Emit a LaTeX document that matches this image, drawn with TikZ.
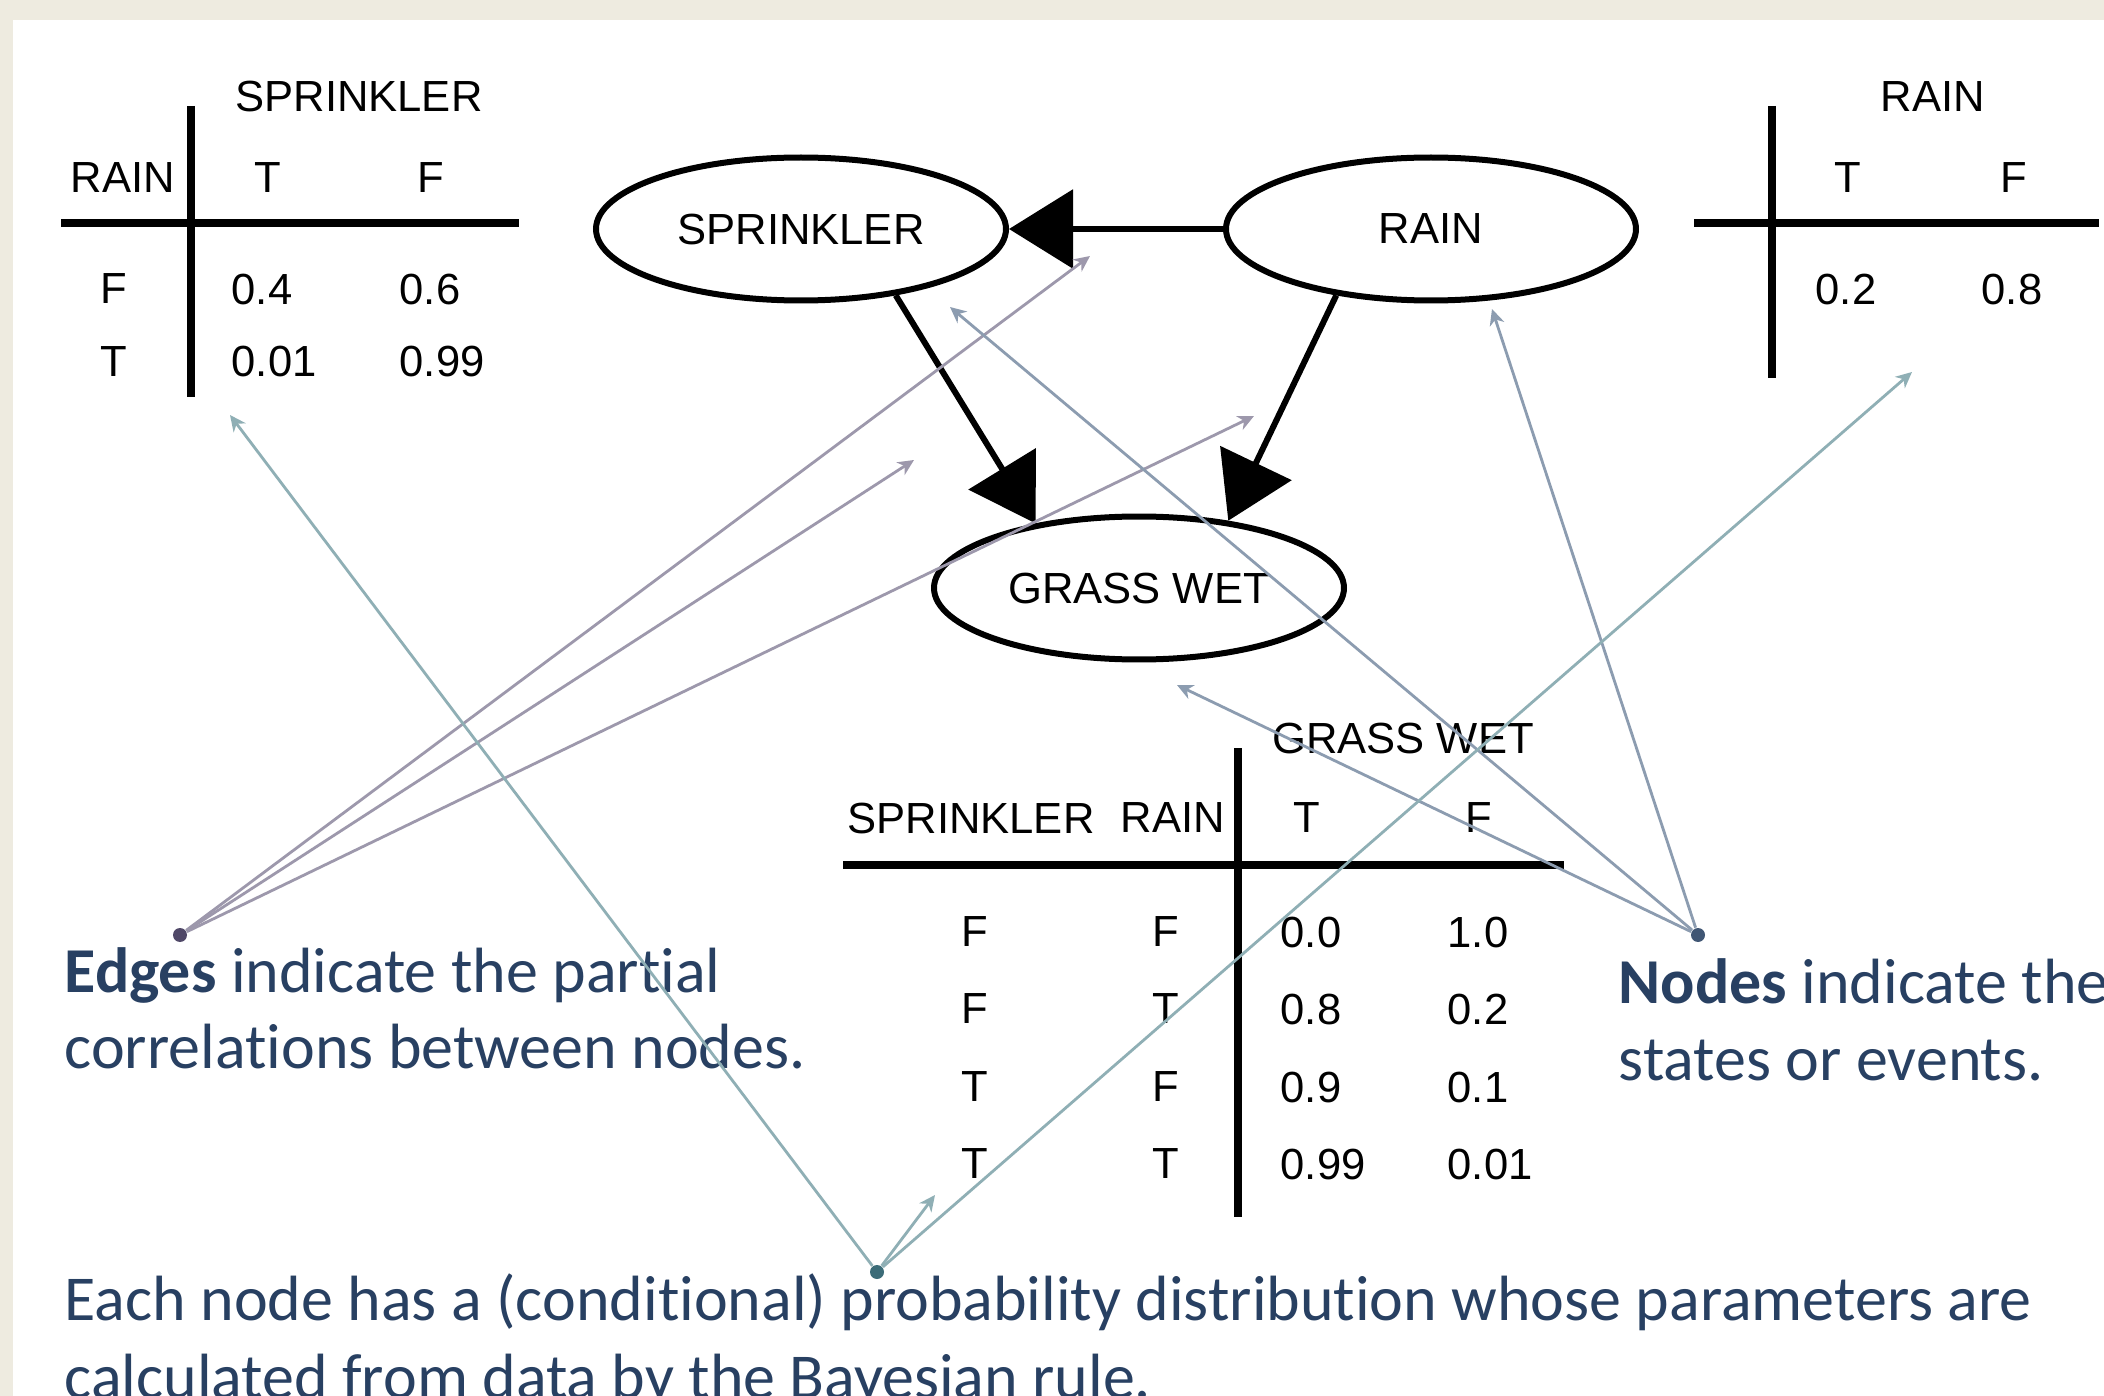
\documentclass[tikz,border=0pt]{standalone}
\usepackage{fontspec}
\setmainfont{Carlito}[Ligatures=CommonOff]
\newfontfamily\tabfont{Liberation Sans}
\usepackage{tikz}
\usetikzlibrary{arrows.meta}
\usetikzlibrary{shapes.geometric}
\definecolor{paper}{RGB}{238,235,224}
\definecolor{textblue}{RGB}{40,64,98}
\definecolor{edgegray}{RGB}{157,152,172}
\definecolor{edgedot}{RGB}{80,72,104}
\definecolor{nodegray}{RGB}{140,156,176}
\definecolor{nodedot}{RGB}{64,86,116}
\definecolor{probgray}{RGB}{143,175,181}
\definecolor{probdot}{RGB}{60,108,120}
\tikzset{cell/.style = {inner sep = 0, font = \tabfont\fontsize{12.4}{15}\selectfont}}
\tikzset{state/.style = {cell, draw, ellipse, line width = 0.6mm,
                         minimum width = 41mm, minimum height = 14.3mm}}
\tikzset{rule/.style = {line width = 0.8mm}}
\tikzset{link/.style = {line width = 0.6mm, -{Triangle[length=6.4mm, width=7.8mm]}}}
\tikzset{note/.style = {anchor = base west, inner sep = 0, text = textblue,
                        font = \fontsize{18.2}{22}\selectfont}}
\tikzset{dot/.style = {fill, circle, inner sep = 0, minimum size = 1.4mm}}
\tikzset{pointer/.style = {line width = 0.28mm,
                           -{Stealth[length=1.6mm, width=1.5mm, inset=0.5mm]}}}

\begin{document}
\begin{tikzpicture}[x = 0.1mm, y = -0.1mm]
    \useasboundingbox (0, 0) rectangle (2104, 1396);
    \fill [paper] (0, 0) rectangle (2104, 1396);
    \fill [white] (13, 20) rectangle (2104, 1396);

    % prior of sprinkler given rain
    \draw [rule] (191, 106) -- (191, 397);
    \draw [rule] (61, 223) -- (519, 223);
    \node [cell] (sp-head) at (359, 97) {SPRINKLER};
    \node [cell] (sp-rain) at (123, 178) {RAIN};
    \node [cell] (sp-t) at (268, 178) {T};
    \node [cell] (sp-f) at (431, 178) {F};
    \node [cell] (sp-f-row) at (114, 289) {F};
    \node [cell, anchor = west] (sp-f-t) at (231, 289) {0.4};
    \node [cell, anchor = west] (sp-f-f) at (399, 289) {0.6};
    \node [cell] (sp-t-row) at (114, 362) {T};
    \node [cell, anchor = west] (sp-t-t) at (231, 362) {0.01};
    \node [cell, anchor = west] (sp-t-f) at (399, 362) {0.99};

    % prior of rain
    \draw [rule] (1772, 106) -- (1772, 378);
    \draw [rule] (1694, 223) -- (2099, 223);
    \node [cell] (rn-head) at (1933, 97) {RAIN};
    \node [cell] (rn-t) at (1848, 178) {T};
    \node [cell] (rn-f) at (2014, 178) {F};
    \node [cell, anchor = west] (rn-t-val) at (1815, 290) {0.2};
    \node [cell, anchor = west] (rn-f-val) at (1981, 290) {0.8};

    % grass wet given sprinkler and rain
    \draw [rule] (1238, 748) -- (1238, 1217);
    \draw [rule] (843, 865) -- (1564, 865);
    \node [cell] (gw-head) at (1403, 738) {GRASS WET};
    \node [cell] (gw-sp) at (971, 818) {SPRINKLER};
    \node [cell] (gw-rn) at (1173, 818) {RAIN};
    \node [cell] (gw-t) at (1307, 818) {T};
    \node [cell] (gw-f) at (1479, 818) {F};
    \foreach \s/\r/\t/\f/\y [count = \i] in {F/F/0.0/1.0/932, F/T/0.8/0.2/1009,
                                            T/F/0.9/0.1/1087, T/T/0.99/0.01/1164} {
        \node [cell] (gw-s\i) at (975, \y) {\s};
        \node [cell] (gw-r\i) at (1166, \y) {\r};
        \node [cell, anchor = west] (gw-t\i) at (1280, \y) {\t};
        \node [cell, anchor = west] (gw-f\i) at (1447, \y) {\f};
    }

    % the network
    \node [state] (sprinkler) at (801, 229) {SPRINKLER};
    \node [state] (rain) at (1431, 229) {RAIN};
    \node [state] (grass) at (1139, 588) {GRASS WET};
    \draw [link] (rain.west) -- (sprinkler.east);
    \draw [link] (sprinkler.-35) -- (grass.148);
    \draw [link] (rain.-145) -- (grass.37);

    % notes
    \node [note] (edges-1) at (64, 992) {\textbf{Edges} indicate the partial};
    \node [note] (edges-2) at (64, 1068) {correlations between nodes.};
    \node [note] (nodes-1) at (1618, 1003) {\textbf{Nodes} indicate the};
    \node [note] (nodes-2) at (1618, 1080) {states or events.};
    \node [note] (prob-1) at (64, 1320) {Each node has a (conditional) probability distribution whose parameters are};
    \node [note] (prob-2) at (64, 1398) {calculated from data by the Bayesian rule.};

    % pointers
    \node [dot, edgedot] (edges-dot) at (180, 935) {};
    \node [dot, nodedot] (nodes-dot) at (1698, 935) {};
    \node [dot, probdot] (prob-dot) at (877, 1272) {};
    \coordinate (to-rs) at (1090, 256);
    \coordinate (to-sg) at (914, 460);
    \coordinate (to-rg) at (1254, 416);
    \coordinate (to-sprinkler) at (950, 307);
    \coordinate (to-rain) at (1492, 309);
    \coordinate (to-grass) at (1177, 685);
    \coordinate (to-sp-table) at (230, 415);
    \coordinate (to-rn-table) at (1912, 372);
    \coordinate (to-gw-table) at (935, 1195);
    \draw [pointer, edgegray] (edges-dot) -- (to-rs);
    \draw [pointer, edgegray] (edges-dot) -- (to-sg);
    \draw [pointer, edgegray] (edges-dot) -- (to-rg);
    \draw [pointer, nodegray] (nodes-dot) -- (to-sprinkler);
    \draw [pointer, nodegray] (nodes-dot) -- (to-rain);
    \draw [pointer, nodegray] (nodes-dot) -- (to-grass);
    \draw [pointer, probgray] (prob-dot) -- (to-sp-table);
    \draw [pointer, probgray] (prob-dot) -- (to-rn-table);
    \draw [pointer, probgray] (prob-dot) -- (to-gw-table);
\end{tikzpicture}
\end{document}
